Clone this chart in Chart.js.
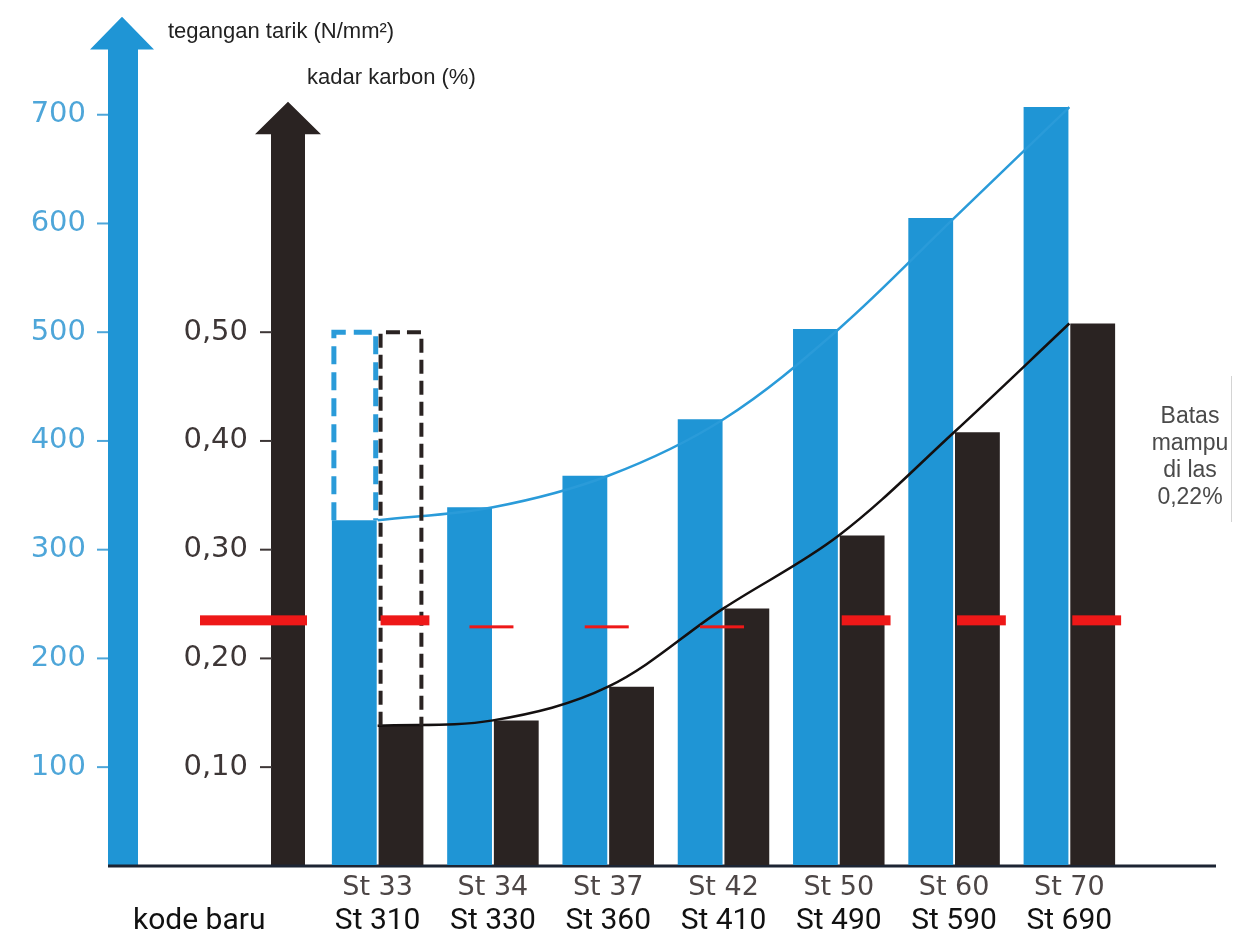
<!DOCTYPE html>
<html>
<head>
<meta charset="utf-8">
<script src="https://cdn.jsdelivr.net/npm/chart.js@4.4.1/dist/chart.umd.min.js"></script>
<style>
  html, body { margin: 0; padding: 0; background: #fff; }
  #wrap { width: 1240px; height: 941px; position: relative; }
</style>
</head>
<body>
<div id="wrap"><canvas id="chart"></canvas></div>
<script>
// kode lama (atas) dan kode baru (bawah)
const oldCodes = ['St 33', 'St 34', 'St 37', 'St 42', 'St 50', 'St 60', 'St 70'];
const newCodes = ['St 310', 'St 330', 'St 360', 'St 410', 'St 490', 'St 590', 'St 690'];

// tegangan tarik (N/mm2) dan kadar karbon (%)
const tensileStrength = [327, 339, 368, 420, 503, 605, 707];
const carbonContent = [0.138, 0.143, 0.174, 0.246, 0.313, 0.408, 0.508];

// St 33: batas atas (kotak putus-putus)
const tensileUpper = [500, null, null, null, null, null, null];
const carbonUpper = [0.50, null, null, null, null, null, null];

// garis merah batas mampu las
const weldLimit = 0.235;
const weldMarks = ['thick', 'thin', 'thin', 'thin', 'thick', 'thick', 'thick'];

const tensileTicks = [100, 200, 300, 400, 500, 600, 700];
const carbonTicks = [0.10, 0.20, 0.30, 0.40, 0.50];

const BLUE = '#1f95d5';
const BLUE_LINE = '#2a9bd9';
const BLUE_TEXT = '#4ea6d9';
const DARK = '#2a2322';
const RED = '#ee1818';
const NARROW = 'Roboto, "Liberation Sans", sans-serif';
const ROUND = '"DejaVu Sans", sans-serif';

function drawArrow(ctx, shaftL, shaftR, headL, headR, tipY, headY, baseY, color) {
    ctx.fillStyle = color;
    ctx.beginPath();
    ctx.moveTo(shaftL, baseY);
    ctx.lineTo(shaftL, headY);
    ctx.lineTo(headL, headY);
    ctx.lineTo((headL + headR) / 2, tipY);
    ctx.lineTo(headR, headY);
    ctx.lineTo(shaftR, headY);
    ctx.lineTo(shaftR, baseY);
    ctx.closePath();
    ctx.fill();
}

// sumbu y: label digeser dengan padding besar, tapi padding atas/bawah area grafik tidak ikut
function fitLeftAxis(scale) {
    scale.width = 160;
    scale.paddingTop = 0;
    scale.paddingBottom = 0;
}

const decorations = {
    id: 'decorations',
    beforeDatasetsDraw(chart) {
        const { ctx, chartArea, scales: { y, y1 } } = chart;
        const base = chartArea.bottom + 1;
        ctx.save();
        // panah sumbu
        drawArrow(ctx, y.right - 52, y.right - 22, y.right - 70, y.right - 6,
            y.getPixelForValue(790), y.getPixelForValue(760), base, BLUE);
        drawArrow(ctx, y1.right - 49, y1.right - 15, y1.right - 65, y1.right + 1,
            y1.getPixelForValue(0.712), y1.getPixelForValue(0.682), base, DARK);

        // tanda tick kecil
        ctx.lineWidth = 2;
        ctx.strokeStyle = BLUE_TEXT;
        tensileTicks.forEach(v => {
            const py = y.getPixelForValue(v);
            ctx.beginPath();
            ctx.moveTo(y.right - 63, py);
            ctx.lineTo(y.right - 52, py);
            ctx.stroke();
        });
        ctx.strokeStyle = '#3d3636';
        carbonTicks.forEach(v => {
            const py = y1.getPixelForValue(v);
            ctx.beginPath();
            ctx.moveTo(y1.right - 60, py);
            ctx.lineTo(y1.right - 48, py);
            ctx.stroke();
        });

        // garis dasar
        ctx.strokeStyle = '#1c2433';
        ctx.lineWidth = 3;
        ctx.beginPath();
        ctx.moveTo(y.right - 52, base);
        ctx.lineTo(chartArea.right + 89, base);
        ctx.stroke();
        ctx.restore();
    },
    afterDatasetsDraw(chart) {
        const { ctx, scales: { y, y1 } } = chart;
        const blueBars = chart.getDatasetMeta(0).data;
        const darkBars = chart.getDatasetMeta(1).data;
        ctx.save();

        // kotak putus-putus St 33
        tensileUpper.forEach((v, i) => {
            if (v === null) return;
            const b = blueBars[i];
            const top = y.getPixelForValue(v);
            ctx.strokeStyle = BLUE_LINE;
            ctx.lineWidth = 5;
            ctx.setLineDash([18, 8]);
            ctx.beginPath();
            ctx.moveTo(b.x - b.width / 2 + 2, b.y);
            ctx.lineTo(b.x - b.width / 2 + 2, top);
            ctx.lineTo(b.x + b.width / 2 - 1, top);
            ctx.lineTo(b.x + b.width / 2 - 1, b.y);
            ctx.stroke();
        });
        carbonUpper.forEach((v, i) => {
            if (v === null) return;
            const b = darkBars[i];
            const top = y1.getPixelForValue(v);
            ctx.strokeStyle = DARK;
            ctx.lineWidth = 4;
            ctx.setLineDash([14, 7]);
            ctx.beginPath();
            ctx.moveTo(b.x - b.width / 2 + 2, b.y);
            ctx.lineTo(b.x - b.width / 2 + 2, top);
            ctx.lineTo(b.x + b.width / 2 - 2, top);
            ctx.lineTo(b.x + b.width / 2 - 2, b.y);
            ctx.stroke();
        });
        ctx.setLineDash([]);

        // batas mampu las
        const ry = y1.getPixelForValue(weldLimit);
        ctx.fillStyle = RED;
        ctx.fillRect(y1.right - 120, ry - 5, 107, 10);
        weldMarks.forEach((m, i) => {
            const b = darkBars[i];
            if (m === 'thick') {
                ctx.fillRect(b.x - b.width / 2 + 2, ry - 5, b.width + 4, 10);
            } else {
                ctx.fillRect(b.x - b.width - 2, ry + 5, 44, 3);
            }
        });
        ctx.restore();
    },
    afterDraw(chart) {
        const { ctx } = chart;
        ctx.save();
        ctx.fillStyle = '#222';
        ctx.textBaseline = 'middle';
        ctx.font = '22px "Liberation Sans", Arial, sans-serif';
        ctx.fillText('tegangan tarik (N/mm²)', 168, 32);
        ctx.fillText('kadar karbon (%)', 307, 78);

        ctx.font = '30px ' + NARROW;
        ctx.fillStyle = '#111';
        ctx.fillText('kode baru', 133, 921);

        ctx.fillStyle = '#4a4a4a';
        ctx.font = '23px "Liberation Sans", Arial, sans-serif';
        ctx.textAlign = 'center';
        ['Batas', 'mampu', 'di las', '0,22%'].forEach((t, i) => {
            ctx.fillText(t, 1190, 417 + i * 27);
        });
        ctx.strokeStyle = '#d4d4d4';
        ctx.lineWidth = 1;
        ctx.beginPath();
        ctx.moveTo(1231.5, 376);
        ctx.lineTo(1231.5, 522);
        ctx.stroke();
        ctx.restore();
    }
};

const ctx = document.getElementById('chart').getContext('2d');
new Chart(ctx, {
    type: 'bar',
    data: {
        labels: oldCodes,
        datasets: [
            {
                label: 'tegangan tarik',
                data: tensileStrength,
                backgroundColor: BLUE,
                yAxisID: 'y',
                order: 2,
                categoryPercentage: 0.81,
                barPercentage: 0.96,
            },
            {
                label: 'kadar karbon',
                data: carbonContent,
                backgroundColor: DARK,
                yAxisID: 'y1',
                order: 2,
                categoryPercentage: 0.81,
                barPercentage: 0.96,
            },
            {
                type: 'line',
                data: tensileStrength,
                borderColor: BLUE_LINE,
                borderWidth: 2.5,
                pointRadius: 0,
                tension: 0.35,
                yAxisID: 'y',
                order: 1,
            },
            {
                type: 'line',
                data: carbonContent,
                borderColor: '#141010',
                borderWidth: 2.5,
                pointRadius: 0,
                tension: 0.35,
                yAxisID: 'y1',
                order: 1,
            },
        ],
    },
    options: {
        responsive: true,
        maintainAspectRatio: false,
        animation: false,
        layout: { padding: { top: 6, right: 113, left: 0, bottom: 0 } },
        plugins: {
            legend: { display: false },
            tooltip: { enabled: false },
        },
        scales: {
            x: {
                position: 'bottom',
                weight: 0,
                grid: { display: false, drawTicks: false },
                border: { display: false },
                ticks: { color: '#4d4646', font: { family: ROUND, size: 27 }, padding: 7, maxRotation: 0 },
                afterFit: (scale) => { scale.height = 38; },
            },
            x2: {
                type: 'category',
                labels: newCodes,
                offset: true,
                position: 'bottom',
                weight: 1,
                grid: { display: false, drawTicks: false },
                border: { display: false },
                ticks: { color: '#111', font: { family: NARROW, size: 30 }, padding: 0, maxRotation: 0 },
                afterFit: (scale) => { scale.height = 38; },
            },
            y: {
                position: 'left',
                weight: 1,
                min: 10,
                max: 800,
                grid: { display: false, drawTicks: false },
                border: { display: false },
                afterBuildTicks: (scale) => { scale.ticks = tensileTicks.map(v => ({ value: v })); },
                ticks: { color: BLUE_TEXT, font: { family: ROUND, size: 29 }, padding: 74 },
                afterFit: fitLeftAxis,
            },
            y1: {
                position: 'left',
                weight: 0,
                min: 0.010,
                max: 0.800,
                grid: { display: false, drawTicks: false },
                border: { display: false },
                afterBuildTicks: (scale) => { scale.ticks = carbonTicks.map(v => ({ value: v })); },
                ticks: {
                    color: '#3d3636',
                    font: { family: ROUND, size: 29 },
                    padding: 72,
                    callback: (v) => v.toFixed(2).replace('.', ','),
                },
                afterFit: fitLeftAxis,
            },
        },
    },
    plugins: [decorations],
});
</script>
</body>
</html>
